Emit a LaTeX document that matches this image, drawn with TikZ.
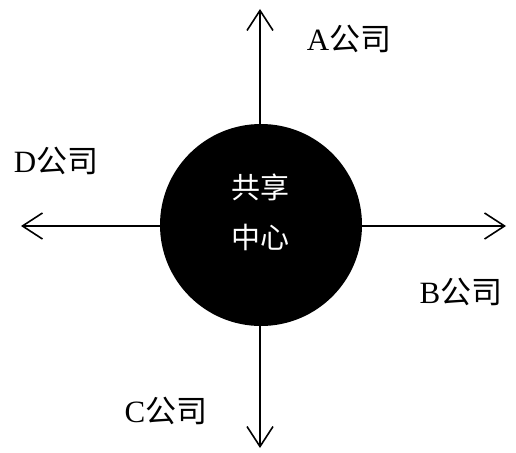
\documentclass[tikz,border=0pt]{standalone}
\usepackage{fontspec}
\setmainfont{Liberation Serif}
\newfontfamily\cjk{Noto Sans CJK SC}
\usetikzlibrary{arrows.meta, positioning}

\begin{document}
\begin{tikzpicture}[
    % GLOBAL CFG
    x=1pt, y=-1pt,
    font=\fontsize{31}{36}\selectfont,
    % Styles
    hub/.style={% For the shared centre
        circle,
        fill=black,
        minimum size=202pt,
        inner sep=0pt,
        },
    hubtext/.style={% White text inside the centre
        text=white,
        align=center,
        inner sep=0pt,
        font=\cjk\fontsize{29}{50}\selectfont,
        },
    company/.style={% For the company labels
        inner sep=0pt,
        },
    ArrowC1/.style={% Arrows with open heads
        line width=1.6pt,
        -{Straight Barb[length=20pt,width=26pt,line width=1.6pt]},
        },
    ]
\useasboundingbox (0,0) rectangle (516,452);

    % Arrow ends
    \coordinate (n) at (260,9);
    \coordinate (s) at (260,448);
    \coordinate (w) at (21,226);
    \coordinate (e) at (506,226);
    \coordinate (o) at (260,226);

    % Draw arrows
    \draw [ArrowC1] (o) -- (n);
    \draw [ArrowC1] (o) -- (s);
    \draw [ArrowC1] (o) -- (w);
    \draw [ArrowC1] (o) -- (e);

    % Draw the centre
    \node [hub] (hub) at (261,225) {};
    \node [hubtext] (hubtxt) at (260,212) {共享\\中心};

    % Draw the companies
    \node [company] (A) at (349,39) {A{\cjk 公司}};
    \node [company] (B) at (461,292) {B{\cjk 公司}};
    \node [company] (C) at (166,411) {C{\cjk 公司}};
    \node [company] (D) at (56,161) {D{\cjk 公司}};

\end{tikzpicture}
\end{document}
